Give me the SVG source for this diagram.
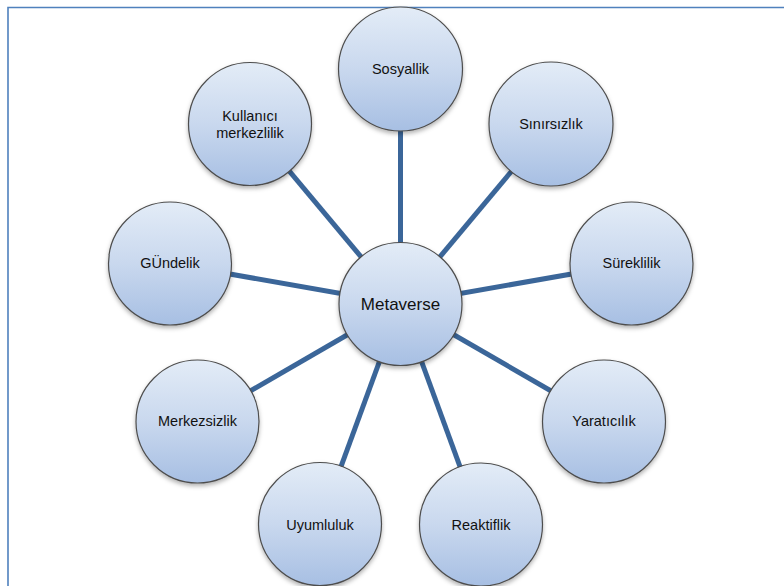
<svg xmlns="http://www.w3.org/2000/svg" width="784" height="586" viewBox="0 0 784 586">
<defs>
<linearGradient id="g" x1="0" y1="0" x2="0" y2="1">
<stop offset="0" stop-color="#e3ecf7"/>
<stop offset="0.5" stop-color="#c9d8ee"/>
<stop offset="1" stop-color="#a7bfe3"/>
</linearGradient>
<filter id="sh" x="-20%" y="-20%" width="140%" height="150%">
<feDropShadow dx="0" dy="2.5" stdDeviation="2" flood-color="#000" flood-opacity="0.3"/>
</filter>
</defs>
<style>
.n circle{fill:url(#g);stroke:#4d4d4d;stroke-width:1.2;filter:url(#sh)}
.n text{font-family:"Liberation Sans",Arial,sans-serif;font-size:14.5px;fill:#111;text-anchor:middle}
#c line{stroke:#3b6699;stroke-width:5}
.frame{stroke:#4f81bd;stroke-width:1.6;fill:none}
</style>
<rect width="784" height="586" fill="#fff"/>
<path class="frame" d="M8 590 V7.5 H790"/>
<g id="c">
<line x1="400.5" y1="304" x2="400.5" y2="69"/>
<line x1="400.5" y1="304" x2="551" y2="124"/>
<line x1="400.5" y1="304" x2="631.5" y2="263.5"/>
<line x1="400.5" y1="304" x2="604" y2="421.5"/>
<line x1="400.5" y1="304" x2="481" y2="524"/>
<line x1="400.5" y1="304" x2="320" y2="524"/>
<line x1="400.5" y1="304" x2="197.5" y2="421.5"/>
<line x1="400.5" y1="304" x2="170" y2="263.5"/>
<line x1="400.5" y1="304" x2="250" y2="124"/>
</g>
<g id="n-sosyallik" class="n"><circle cx="400.5" cy="69" r="62"/><text x="400.5" y="74">Sosyallik</text></g>
<g id="n-sinirsizlik" class="n"><circle cx="551" cy="124" r="62"/><text x="551" y="129">Sınırsızlık</text></g>
<g id="n-sureklilik" class="n"><circle cx="631.5" cy="263.5" r="61.5"/><text x="631.5" y="268">Süreklilik</text></g>
<g id="n-yaraticilik" class="n"><circle cx="604" cy="421.5" r="61.5"/><text x="604" y="426">Yaratıcılık</text></g>
<g id="n-reaktiflik" class="n"><circle cx="481" cy="524.5" r="61.5"/><text x="481" y="530">Reaktiflik</text></g>
<g id="n-uyumluluk" class="n"><circle cx="320" cy="524" r="61.5"/><text x="320" y="530">Uyumluluk</text></g>
<g id="n-merkezsizlik" class="n"><circle cx="197.5" cy="421.5" r="61.5"/><text x="197.5" y="426">Merkezsizlik</text></g>
<g id="n-gundelik" class="n"><circle cx="170" cy="263.5" r="61.5"/><text x="170" y="268">GÜndelik</text></g>
<g id="n-kullanici" class="n"><circle cx="250" cy="124" r="61.5"/><text x="250" y="121">Kullanıcı</text><text x="250" y="138">merkezlilik</text></g>
<g id="n-metaverse" class="n"><circle cx="400.5" cy="304" r="61.5"/><text x="400.5" y="310" style="font-size:17px">Metaverse</text></g>
</svg>
